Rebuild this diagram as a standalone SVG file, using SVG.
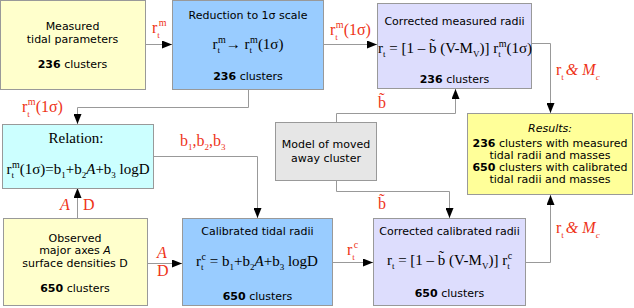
<svg xmlns="http://www.w3.org/2000/svg" width="634" height="308" viewBox="0 0 634 308">
<style>
.box{stroke:#999;stroke-width:1}
.y{fill:#ffffcc}.b{fill:#99ccff}.l{fill:#ddddfd}.c{fill:#ccffff}.g{fill:#e6e6e6}.r{fill:#ffff99}
.s{font-family:"DejaVu Sans",Verdana,sans-serif;font-size:11px;fill:#000}
.m{font-family:"Liberation Serif","Times New Roman",serif;font-size:15px;fill:#000}
.lab{font-family:"Liberation Serif","Times New Roman",serif;font-size:16px;fill:#ee3318}
.sb{font-size:9px}.sp{font-size:10px}
.conn{stroke:#999;stroke-width:1;fill:none}
.i{font-style:italic}
</style>
<defs>
<marker id="ah" markerUnits="userSpaceOnUse" markerWidth="10" markerHeight="8" refX="10" refY="4" orient="auto">
<path d="M0,0 L10,4 L0,8 z" fill="#000"/>
</marker>
</defs>
<g id="connectors">
<path class="conn" d="M145,44.5 H172" marker-end="url(#ah)"/>
<path class="conn" d="M324,44.5 H377" marker-end="url(#ah)"/>
<path class="conn" d="M532,43.5 H550.5 V113" marker-end="url(#ah)"/>
<path class="conn" d="M248.5,89 V107.5 H77.5 V124" marker-end="url(#ah)"/>
<path class="conn" d="M153,156.5 H257.5 V218" marker-end="url(#ah)"/>
<path class="conn" d="M336.5,122 V113.5 H455.5 V89" marker-end="url(#ah)"/>
<path class="conn" d="M336.5,180 V191.5 H449.5 V218" marker-end="url(#ah)"/>
<path class="conn" d="M77.5,218 V188" marker-end="url(#ah)"/>
<path class="conn" d="M148,263.5 H182" marker-end="url(#ah)"/>
<path class="conn" d="M333,262.5 H373" marker-end="url(#ah)"/>
<path class="conn" d="M526,262.5 H550.5 V195" marker-end="url(#ah)"/>
</g>
<g id="labels">
<text class="lab" x="152" y="33">r<tspan class="sb" dy="5">t</tspan><tspan class="sp" dx="-1" dy="-12">m</tspan></text>
<text class="lab" x="330" y="35">r<tspan class="sb" dy="5">t</tspan><tspan class="sp" dx="-2" dy="-12">m</tspan><tspan dy="7">(1σ)</tspan></text>
<text class="lab" x="556" y="75">r<tspan class="sb" dy="5">t</tspan><tspan class="i" dx="2" dy="-5">&amp; M</tspan><tspan class="sb i" dy="5">c</tspan></text>
<text class="lab" x="22" y="112">r<tspan class="sb" dy="5">t</tspan><tspan class="sp" dx="-2" dy="-12">m</tspan><tspan dy="7">(1σ)</tspan></text>
<text class="lab" x="180" y="146">b<tspan class="sb" dy="4">1</tspan><tspan dy="-4">,b</tspan><tspan class="sb" dy="4">2</tspan><tspan dy="-4">,b</tspan><tspan class="sb" dy="4">3</tspan></text>
<text class="lab" x="378" y="108">b̃</text>
<text class="lab" x="378" y="209">b̃</text>
<text class="lab i" x="60" y="210">A</text>
<text class="lab" x="83" y="210">D</text>
<text class="lab i" x="157" y="258">A</text>
<text class="lab" x="157" y="276">D</text>
<text class="lab" x="347" y="255">r<tspan class="sb" dy="5">t</tspan><tspan class="sp" dx="-1" dy="-12">c</tspan></text>
<text class="lab" x="556" y="233">r<tspan class="sb" dy="5">t</tspan><tspan class="i" dx="2" dy="-5">&amp; M</tspan><tspan class="sb i" dy="5">c</tspan></text>
</g>
<g id="measured">
<rect class="box y" x="0.5" y="0.5" width="145" height="89"/>
<text class="s" x="72.5" y="30" text-anchor="middle">Measured</text>
<text class="s" x="72.5" y="43" text-anchor="middle">tidal parameters</text>
<text class="s" x="72.5" y="68" text-anchor="middle"><tspan font-weight="bold">236</tspan> clusters</text>
</g>
<g id="reduction">
<rect class="box b" x="172.5" y="0.5" width="151" height="89"/>
<text class="s" x="248" y="19" text-anchor="middle">Reduction to 1σ scale</text>
<text class="m" x="248" y="49" text-anchor="middle">r<tspan class="sb" dy="4">t</tspan><tspan class="sp" dx="-2" dy="-10">m</tspan><tspan dy="6">→ r</tspan><tspan class="sb" dy="4">t</tspan><tspan class="sp" dx="-2" dy="-10">m</tspan><tspan dy="6">(1σ)</tspan></text>
<text class="s" x="248" y="80" text-anchor="middle"><tspan font-weight="bold">236</tspan> clusters</text>
</g>
<g id="corrected-measured">
<rect class="box l" x="377.5" y="3.5" width="154" height="85"/>
<text class="s" x="454.5" y="25" text-anchor="middle">Corrected measured radii</text>
<text class="m" x="455" y="53" text-anchor="middle">r<tspan class="sb" dy="4">t</tspan><tspan dy="-4"> = [1 – b̃ (V-M</tspan><tspan class="sb" dy="4">V</tspan><tspan dy="-4">)] r</tspan><tspan class="sb" dy="4">t</tspan><tspan class="sp" dx="-2" dy="-10">m</tspan><tspan dy="6">(1σ)</tspan></text>
<text class="s" x="454.5" y="83" text-anchor="middle"><tspan font-weight="bold">236</tspan> clusters</text>
</g>
<g id="relation">
<rect class="box c" x="2.5" y="124.5" width="151" height="64"/>
<text class="m" x="76" y="143" text-anchor="middle">Relation:</text>
<text class="m" x="78" y="174" text-anchor="middle">r<tspan class="sb" dy="4">t</tspan><tspan class="sp" dx="-2" dy="-10">m</tspan><tspan dy="6">(1σ)=b</tspan><tspan class="sb" dy="4">1</tspan><tspan dy="-4">+b</tspan><tspan class="sb" dy="4">2</tspan><tspan class="i" dy="-4">A</tspan><tspan dy="0">+b</tspan><tspan class="sb" dy="4">3</tspan><tspan dy="-4"> logD</tspan></text>
</g>
<g id="model">
<rect class="box g" x="275.5" y="122.5" width="101" height="58"/>
<text class="s" x="326" y="148" text-anchor="middle">Model of moved</text>
<text class="s" x="326" y="162" text-anchor="middle">away cluster</text>
</g>
<g id="results">
<rect class="box r" x="467.5" y="113.5" width="165" height="81"/>
<text class="s" x="550" y="132" text-anchor="middle" font-style="italic" font-size="12">Results:</text>
<text class="s" x="550" y="146.5" text-anchor="middle"><tspan font-weight="bold">236</tspan> clusters with measured</text>
<text class="s" x="550" y="158.5" text-anchor="middle">tidal radii and masses</text>
<text class="s" x="550" y="171" text-anchor="middle"><tspan font-weight="bold">650</tspan> clusters with calibrated</text>
<text class="s" x="550" y="183" text-anchor="middle">tidal radii and masses</text>
</g>
<g id="observed">
<rect class="box y" x="3.5" y="218.5" width="144" height="87"/>
<text class="s" x="75" y="242" text-anchor="middle">Observed</text>
<text class="s" x="75" y="254" text-anchor="middle">major axes <tspan font-style="italic">A</tspan></text>
<text class="s" x="75" y="266.5" text-anchor="middle">surface densities D</text>
<text class="s" x="75" y="292" text-anchor="middle"><tspan font-weight="bold">650</tspan> clusters</text>
</g>
<g id="calibrated">
<rect class="box b" x="182.5" y="218.5" width="150" height="87"/>
<text class="s" x="257.5" y="235" text-anchor="middle">Calibrated tidal radii</text>
<text class="m" x="257" y="266" text-anchor="middle">r<tspan class="sb" dy="4">t</tspan><tspan class="sp" dx="-2" dy="-10">c</tspan><tspan dy="6"> = b</tspan><tspan class="sb" dy="4">1</tspan><tspan dy="-4">+b</tspan><tspan class="sb" dy="4">2</tspan><tspan class="i" dy="-4">A</tspan><tspan>+b</tspan><tspan class="sb" dy="4">3</tspan><tspan dy="-4"> logD</tspan></text>
<text class="s" x="257.5" y="300" text-anchor="middle"><tspan font-weight="bold">650</tspan> clusters</text>
</g>
<g id="corrected-calibrated">
<rect class="box l" x="373.5" y="218.5" width="152" height="87"/>
<text class="s" x="449.5" y="235" text-anchor="middle">Corrected calibrated radii</text>
<text class="m" x="449.5" y="265" text-anchor="middle">r<tspan class="sb" dy="4">t</tspan><tspan dy="-4"> = [1 – b̃ (V-M</tspan><tspan class="sb" dy="4">V</tspan><tspan dy="-4">)] r</tspan><tspan class="sb" dy="4">t</tspan><tspan class="sp" dx="-2" dy="-10">c</tspan></text>
<text class="s" x="449.5" y="297" text-anchor="middle"><tspan font-weight="bold">650</tspan> clusters</text>
</g>
</svg>
